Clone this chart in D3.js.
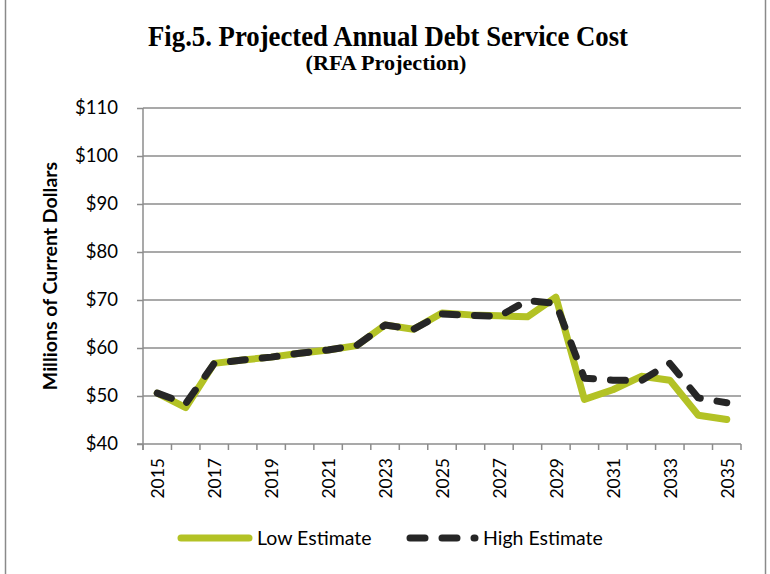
<!DOCTYPE html>
<html lang="en">
<head>
    <meta charset="UTF-8">
    <title>Projected Annual Debt Service Cost</title>
    <style>
        html, body {
            margin: 0;
            padding: 0;
            background-color: #ffffff;
        }
        svg text {
            font-family: Lato, 'Open Sans', sans-serif;
            fill: #000;
        }
    </style>
</head>
<body>
    <div id="graph"></div>
    <script src="https://d3js.org/d3.v7.min.js"></script>
    <script>
        const width = 770;
        const height = 574;
        const margin = {top: 108, left: 143, bottom: 130, right: 29};

        // DATA
        const years = d3.range(2015, 2036).map(String);
        const lowEstimate = [
            50.6, 47.6, 56.8, 57.5, 58.1, 58.9, 59.6, 60.5, 64.8, 63.9, 67.3,
            66.9, 66.7, 66.5, 70.6, 49.3, 51.3, 54.1, 53.3, 46.0, 45.1
        ];
        const highEstimate = [
            50.6, 48.4, 56.8, 57.5, 58.1, 58.9, 59.6, 60.5, 64.8, 63.9, 67.1,
            66.8, 66.6, 69.9, 69.3, 53.7, 53.3, 53.2, 56.8, 49.6, 48.6
        ];
        const yTicks = [40, 50, 60, 70, 80, 90, 100, 110];
        const seriesNames = ["Low Estimate", "High Estimate"];

        const green = "#b3c225";
        const dark = "#262626";

        const svg = d3.select("#graph")
            .append("svg")
            .attr("width", width)
            .attr("height", height);

        // OUTER BORDER
        svg.append("rect")
            .attr("x", 5.5)
            .attr("y", -1)
            .attr("width", 760)
            .attr("height", height + 2)
            .style("fill", "none")
            .style("stroke", "#8a8a8a")
            .style("stroke-width", 1.5);

        // TITLES
        svg.append("text")
            .attr("x", 388)
            .attr("y", 46)
            .attr("text-anchor", "middle")
            .attr("textLength", 480)
            .attr("lengthAdjust", "spacingAndGlyphs")
            .text("Fig.5. Projected Annual Debt Service Cost")
            .style("font-family", "'Liberation Serif', serif")
            .style("font-weight", "bold")
            .style("font-size", "29px");

        svg.append("text")
            .attr("x", 386)
            .attr("y", 70)
            .attr("text-anchor", "middle")
            .attr("textLength", 161)
            .attr("lengthAdjust", "spacingAndGlyphs")
            .text("(RFA Projection)")
            .style("font-family", "'Liberation Serif', serif")
            .style("font-weight", "bold")
            .style("font-size", "20px");

        const x = d3.scaleBand()
            .domain(years)
            .range([margin.left, width - margin.right])
            .padding(0);

        const y = d3.scaleLinear()
            .domain([40, 110])
            .range([height - margin.bottom, margin.top]);

        const cx = (d) => x(d) + x.bandwidth() / 2;

        // GRIDLINES
        svg.append("g")
            .selectAll("line")
            .data(yTicks.slice(1))
            .enter()
            .append("line")
            .attr("x1", margin.left)
            .attr("x2", width - margin.right)
            .attr("y1", (d) => y(d))
            .attr("y2", (d) => y(d))
            .style("stroke", "#8c8c8c")
            .style("stroke-width", 1.5);

        // Y AXIS
        const yAxis = svg.append("g")
            .attr("transform", `translate(${margin.left},0)`)
            .call(d3.axisLeft(y).tickValues(yTicks).tickSize(6).tickPadding(19).tickFormat((d) => "$" + d));
        yAxis.select(".domain").attr("d", `M0,${margin.top}V${height - margin.bottom + 6}`);
        yAxis.selectAll("path, line").style("stroke", "#8c8c8c").style("stroke-width", 1.5);
        yAxis.selectAll("text").style("font-size", "18.5px").style("font-family", "Lato, sans-serif");

        // X AXIS
        const x0 = height - margin.bottom;
        svg.append("line")
            .attr("x1", margin.left - 6)
            .attr("x2", width - margin.right)
            .attr("y1", x0)
            .attr("y2", x0)
            .style("stroke", "#8c8c8c")
            .style("stroke-width", 1.5);

        svg.append("g")
            .selectAll("line")
            .data(years.concat(["end"]))
            .enter()
            .append("line")
            .attr("x1", (d) => d === "end" ? x.range()[1] : x(d))
            .attr("x2", (d) => d === "end" ? x.range()[1] : x(d))
            .attr("y1", x0)
            .attr("y2", x0 + 6)
            .style("stroke", "#8c8c8c")
            .style("stroke-width", 1.5);

        svg.append("g")
            .selectAll("text")
            .data(years.filter((d, i) => i % 2 === 0))
            .enter()
            .append("text")
            .attr("transform", (d) => `translate(${cx(d) + 7},${x0 + 14}) rotate(-90)`)
            .attr("text-anchor", "end")
            .text((d) => d)
            .style("font-size", "17.5px");

        // Y LABEL
        svg.append("text")
            .attr("transform", "translate(57,276) rotate(-90)")
            .attr("text-anchor", "middle")
            .text("Millions of Current Dollars")
            .style("font-weight", "bold")
            .style("font-size", "19.5px");

        // LINES
        const line = (vals) => d3.line()
            .x((d, i) => cx(years[i]))
            .y((d) => y(d))(vals);

        svg.append("path")
            .attr("d", line(lowEstimate))
            .style("fill", "none")
            .style("stroke", green)
            .style("stroke-width", 7)
            .style("stroke-linejoin", "round")
            .style("stroke-linecap", "round");

        svg.append("path")
            .attr("d", line(highEstimate))
            .style("fill", "none")
            .style("stroke", dark)
            .style("stroke-width", 7)
            .style("stroke-linejoin", "round")
            .style("stroke-linecap", "round")
            .style("stroke-dasharray", "15,17");

        // LEGEND
        const legend = svg.append("g");
        legend.append("line")
            .attr("x1", 181).attr("x2", 249)
            .attr("y1", 538).attr("y2", 538)
            .style("stroke", green)
            .style("stroke-width", 7)
            .style("stroke-linecap", "round");
        legend.append("text")
            .attr("x", 257).attr("y", 545)
            .text(seriesNames[0])
            .style("font-size", "19.5px");

        legend.append("line")
            .attr("x1", 410).attr("x2", 475)
            .attr("y1", 538).attr("y2", 538)
            .style("stroke", dark)
            .style("stroke-width", 7)
            .style("stroke-linecap", "round")
            .style("stroke-dasharray", "15,17");
        legend.append("text")
            .attr("x", 483).attr("y", 545)
            .text(seriesNames[1])
            .style("font-size", "19.5px");
    </script>
</body>
</html>
